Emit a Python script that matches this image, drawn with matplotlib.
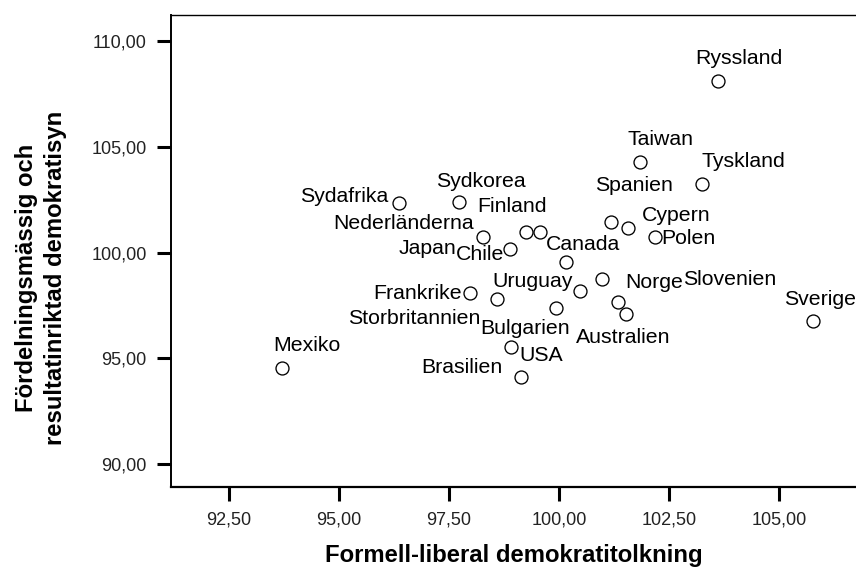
import numpy as np
import matplotlib
matplotlib.use('Agg')
from matplotlib import pyplot as plt
from matplotlib.ticker import FuncFormatter

plt.rcParams['font.family'] = ['Liberation Sans', 'DejaVu Sans']

# data
countries = ['Ryssland', 'Taiwan', 'Tyskland', 'Sydafrika', 'Sydkorea', 'Spanien',
             'Cypern', 'Polen', 'Finland', 'Japan', 'Chile', 'Nederländerna',
             'Canada', 'Uruguay', 'Slovenien', 'Norge', 'Australien', 'Bulgarien',
             'Storbritannien', 'Frankrike', 'Mexiko', 'USA', 'Brasilien', 'Sverige']
formell = [103.62, 101.83, 103.24, 96.37, 97.73, 101.18,
           101.56, 102.17, 99.25, 99.57, 98.89, 98.27,
           100.15, 100.48, 100.98, 101.35, 101.52, 99.93,
           98.60, 97.98, 93.70, 98.91, 99.14, 105.78]
fordelning = [108.12, 104.30, 103.24, 102.33, 102.38, 101.43,
              101.18, 100.73, 100.96, 100.99, 100.16, 100.75,
              99.57, 98.19, 98.77, 97.65, 97.10, 97.40,
              97.80, 98.11, 94.56, 95.53, 94.14, 96.77]

xticks = [92.5, 95.0, 97.5, 100.0, 102.5, 105.0]
yticks = [90, 95, 100, 105, 110]

# label offsets from the marker, in pixels (dx right, dy down)
label_off = [(21, -17), (21, -17), (42, -17), (-55, -1), (22, -15), (23, -31),
             (49, -7), (34, 7), (-14, -20), (-113, 22), (-30, 11), (-79, -8),
             (17, -12), (-48, -4), (128, 6), (36, -14), (-3, 29), (-31, 26),
             (-83, 25), (-53, 6), (25, -17), (30, 14), (-59, -4), (7, -16)]

W, H = 856, 568
fig = plt.figure(figsize=(W / 100, H / 100), dpi=100)
ax = fig.add_axes([171 / W, 1 - 486.7 / H, (W - 171) / W, (486.7 - 15) / H])

ax.scatter(formell, fordelning, s=87, facecolors='white', edgecolors='black',
           linewidths=0.95, zorder=3, clip_on=False)

px = 72 / 100
for name, x, y, (dx, dy) in zip(countries, formell, fordelning, label_off):
    ax.annotate(name, (x, y), xytext=(dx * px, -dy * px), textcoords='offset points',
                ha='center', va='baseline', fontsize=15.3, color='black')

ax.set_xlim(91.18, 106.75)
ax.set_ylim(88.94, 111.23)
ax.set_xticks(xticks)
ax.set_yticks(yticks)
comma = FuncFormatter(lambda v, p: f'{v:.2f}'.replace('.', ','))
ax.xaxis.set_major_formatter(comma)
ax.yaxis.set_major_formatter(comma)

ax.spines['right'].set_visible(False)
ax.spines['top'].set_linewidth(1.0)
ax.spines['left'].set_linewidth(1.4)
ax.spines['bottom'].set_linewidth(1.6)
ax.tick_params(axis='both', direction='out', length=10, width=2.2, pad=7.5,
               labelsize=13, labelcolor='#222222', color='black')

ax.set_xlabel('Formell-liberal demokratitolkning', fontsize=17.2, fontweight='bold')
ax.xaxis.label.set_va('baseline')
ax.xaxis.set_label_coords(0.5, (486.7 - 561.7) / 471.7)

ax.set_ylabel('Fördelningsmässig och\nresultatinriktad demokratisyn', fontsize=17.2,
              fontweight='bold', linespacing=1.33, multialignment='center')
ax.yaxis.label.set_va('center')
ax.yaxis.set_label_coords((41 - 171) / 685, (486.7 - 278) / 471.7)

fig.savefig('out.png', dpi=100)
